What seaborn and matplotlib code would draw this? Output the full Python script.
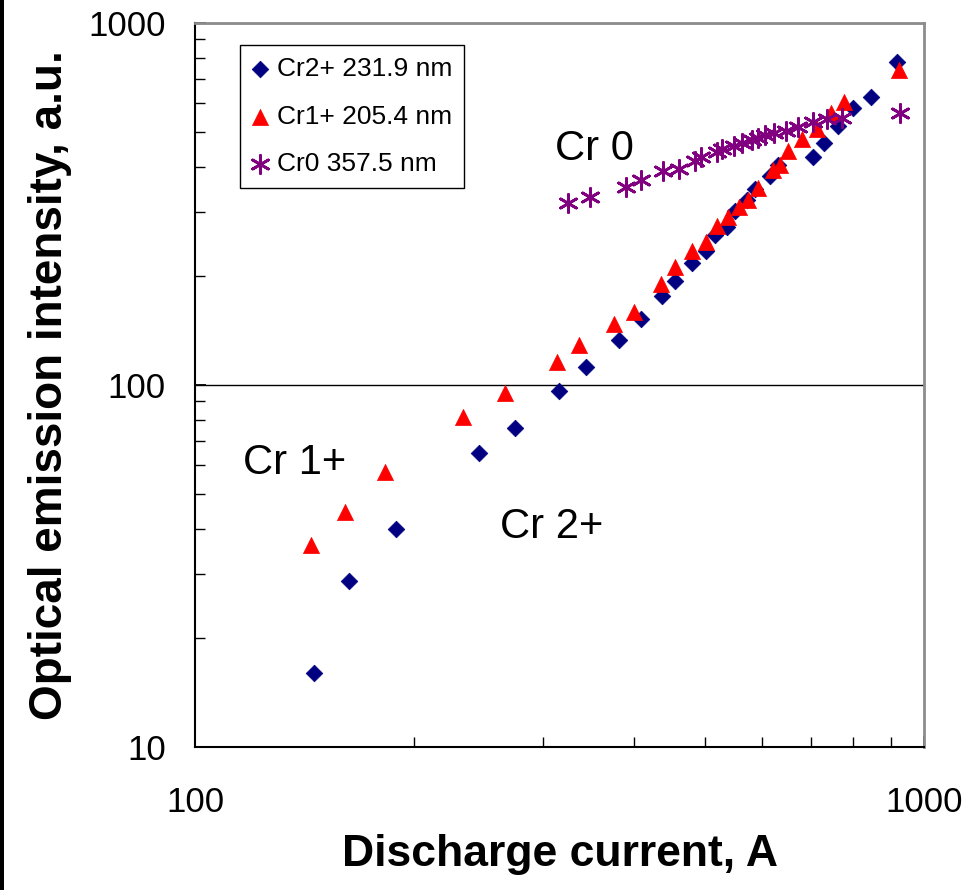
import numpy as np
import pandas as pd
import matplotlib
matplotlib.use("Agg")
import matplotlib.pyplot as plt
from matplotlib.ticker import FixedLocator, NullFormatter, FuncFormatter, LogLocator
from matplotlib.patches import Rectangle
import seaborn as sns

# ---- data ----
cr2_current = [145.7, 162.6, 188.7, 245.3, 274.8, 315.7, 343.9, 381.6, 409.1, 437.1,
               455.4, 480.6, 502.3, 516.8, 536.8, 550.5, 571.8, 586.5, 614.9, 630.6,
               704.2, 729.2, 762.2, 799.2, 845.9, 918.4]
cr2_intensity = [16.0, 28.7, 40.0, 64.8, 75.9, 96.1, 111.9, 132.9, 151.8, 175.7,
                 193.3, 216.8, 233.9, 259.0, 272.5, 301.6, 323.4, 346.9, 376.9, 404.1,
                 425.1, 464.7, 517.6, 580.2, 622.6, 777.6]

cr1_current = [144.3, 160.6, 182.3, 233.2, 266.2, 313.7, 336.4, 375.6, 400.2, 435.7,
               455.4, 480.6, 502.3, 520.0, 538.4, 557.5, 573.6, 592.1, 620.7, 634.6,
               650.8, 680.2, 713.2, 745.6, 776.9, 924.1]
cr1_intensity = [36.1, 44.5, 57.4, 81.4, 94.9, 115.5, 128.7, 147.1, 158.7, 189.7,
                 211.3, 233.9, 247.7, 274.2, 290.4, 309.4, 323.4, 349.1, 391.3, 404.1,
                 441.7, 476.7, 507.9, 562.3, 603.1, 738.9]

cr0_current = [324.9, 348.3, 390.1, 409.1, 438.5, 461.2, 485.2, 494.5, 520.0, 528.4,
               548.8, 562.8, 580.8, 592.1, 605.2, 622.6, 646.8, 671.8, 704.2, 736.2,
               771.9, 927.0]
cr0_intensity = [317.3, 329.6, 351.3, 367.3, 388.9, 393.9, 414.4, 425.1, 438.9, 447.3,
                 455.9, 464.7, 473.6, 479.7, 488.9, 495.2, 501.5, 514.4, 531.0, 541.3,
                 544.7, 562.3]

series_labels = ["Cr2+ 231.9 nm", "Cr1+ 205.4 nm", "Cr0 357.5 nm"]
annotations = ["Cr 0", "Cr 1+", "Cr 2+"]
x_tick_values = [100, 1000]
y_tick_values = [10, 100, 1000]

df2 = pd.DataFrame({"current": cr2_current, "intensity": cr2_intensity})
df1 = pd.DataFrame({"current": cr1_current, "intensity": cr1_intensity})
df0 = pd.DataFrame({"current": cr0_current, "intensity": cr0_intensity})

sns.set_theme(style="white")
plt.rcParams["font.family"] = ["Liberation Sans", "DejaVu Sans"]
plt.rcParams["text.color"] = "black"
plt.rcParams["axes.labelcolor"] = "black"
plt.rcParams["xtick.color"] = "black"
plt.rcParams["ytick.color"] = "black"

fig = plt.figure(figsize=(9.69, 8.90), dpi=100)
ax = fig.add_axes([195 / 969, 1 - 747 / 890, (924 - 195) / 969, (747 - 22.5) / 890])

ax.set_xscale("log")
ax.set_yscale("log")

sns.scatterplot(data=df2, x="current", y="intensity", ax=ax, marker="D", s=72,
                color="#000080", edgecolor="#000080", linewidth=0.5,
                label=series_labels[0], zorder=3)
sns.scatterplot(data=df1, x="current", y="intensity", ax=ax, marker="^", s=135,
                color="#FF0000", edgecolor="#FF0000", linewidth=0.5,
                label=series_labels[1], zorder=4)
sns.scatterplot(data=df0, x="current", y="intensity", ax=ax, marker=(6, 2, 0), s=170,
                color="#800080", linewidth=2.0,
                label=series_labels[2], zorder=5)

ax.set_xlim(100, 1000)
ax.set_ylim(10, 1000)

# ticks
ax.xaxis.set_major_locator(FixedLocator(x_tick_values))
ax.yaxis.set_major_locator(FixedLocator(y_tick_values))
ax.xaxis.set_minor_locator(LogLocator(base=10, subs=np.arange(2, 10)))
ax.yaxis.set_minor_locator(LogLocator(base=10, subs=np.arange(2, 10)))
fmt = FuncFormatter(lambda v, p: f"{v:g}")
ax.xaxis.set_major_formatter(fmt)
ax.yaxis.set_major_formatter(fmt)
ax.xaxis.set_minor_formatter(NullFormatter())
ax.yaxis.set_minor_formatter(NullFormatter())
ax.tick_params(axis="both", which="both", direction="in", color="black",
               bottom=True, left=True, top=False, right=False)
ax.tick_params(axis="both", which="major", length=8, width=1.3)
ax.tick_params(axis="both", which="minor", length=7, width=1.0)
ax.tick_params(axis="x", which="major", labelsize=25, pad=28)
ax.tick_params(axis="y", which="major", labelsize=25, pad=21)

# gridline (major y only)
ax.yaxis.grid(True, which="major", color="black", linewidth=1.0)
ax.xaxis.grid(False)

for side in ["left", "bottom"]:
    ax.spines[side].set_color("black")
    ax.spines[side].set_linewidth(1.5)
for side in ["top", "right"]:
    ax.spines[side].set_color("#8c8c8c")
    ax.spines[side].set_linewidth(2.0)

ax.set_xlabel("Discharge current, A", fontsize=32, fontweight="bold", labelpad=11)
ax.set_ylabel("Optical emission intensity, a.u.", fontsize=33, fontweight="bold", labelpad=12)

# annotations
ax.text(311.8, 417, annotations[0], fontsize=30, ha="left", va="baseline")
ax.text(116.4, 56.7, annotations[1], fontsize=30, ha="left", va="baseline")
ax.text(262.0, 37.8, annotations[2], fontsize=30, ha="left", va="baseline")

leg = ax.legend(loc="upper left", bbox_to_anchor=((240 - 195) / 729, (747 - 45) / 724.5),
                fontsize=19, frameon=True, fancybox=False, shadow=False,
                borderpad=0.45, borderaxespad=0, handlelength=0.6, handletextpad=0.35,
                labelspacing=0.9, scatterpoints=1)
leg.get_frame().set_edgecolor("black")
leg.get_frame().set_linewidth(1.0)
leg.get_frame().set_facecolor("white")
leg.get_frame().set_alpha(1)

# black bar at left edge of the picture
fig.patches.append(Rectangle((0, 0), 4 / 969, 1, transform=fig.transFigure,
                             facecolor="black", edgecolor="none"))

fig.savefig("out.png", dpi=100, facecolor="white")
